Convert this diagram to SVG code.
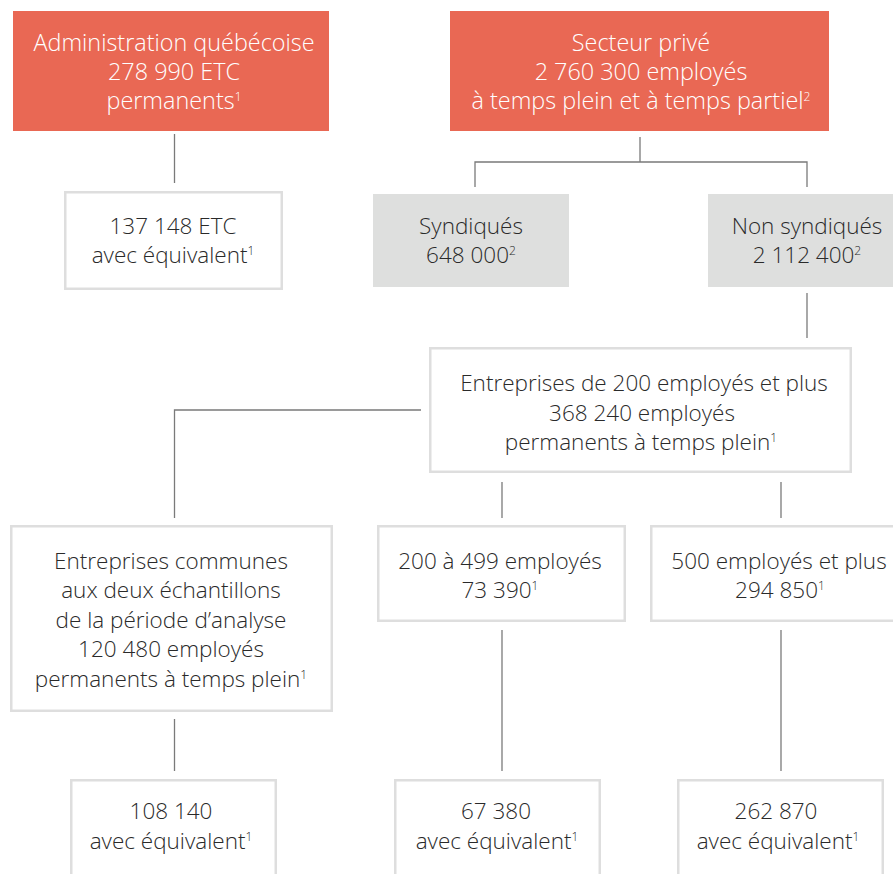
<svg xmlns="http://www.w3.org/2000/svg" width="893" height="874" viewBox="0 0 893 874">
<style>
.red{fill:#E96854}
.grey{fill:#DEDFDE}
.box{fill:#FFFFFF;stroke:#DEDEDE;stroke-width:2.5}
text{font-family:"Open Sans","Noto Sans","Liberation Sans",sans-serif;font-weight:300;font-size:22.5px;text-anchor:middle}
.w{fill:#FFFFFF;font-size:23.4px}
.d{fill:#2A2A2A}
.sup{font-size:12px}
.conn{fill:none;stroke:#7A7A7A;stroke-width:1.3}
</style>
<rect width="893" height="874" fill="#FFFFFF"/>
<g id="connectors">
<path class="conn" d="M174.5 134V183"/>
<path class="conn" d="M640 137V162M475 187V162H807V187"/>
<path class="conn" d="M807 293V338"/>
<path class="conn" d="M421 410H174.5V518"/>
<path class="conn" d="M502 482V518"/>
<path class="conn" d="M781 482V518"/>
<path class="conn" d="M174.5 719V771"/>
<path class="conn" d="M502 630V771"/>
<path class="conn" d="M781 630V771"/>
</g>
<g id="admin">
<rect class="red" x="13" y="11" width="316" height="120"/>
<text class="w" x="174" y="51">Administration québécoise</text>
<text class="w" x="174" y="80">278 990 ETC</text>
<text class="w" x="174" y="109">permanents<tspan class="sup" dy="-8">1</tspan></text>
</g>
<g id="prive">
<rect class="red" x="450" y="11" width="379" height="120"/>
<text class="w" x="641" y="51">Secteur privé</text>
<text class="w" x="641" y="80">2 760 300 employés</text>
<text class="w" x="641" y="109">à temps plein et à temps partiel<tspan class="sup" dy="-8">2</tspan></text>
</g>
<g id="admin-equiv">
<rect class="box" x="65.25" y="192.25" width="216.5" height="96.5"/>
<text class="d" x="173" y="234">137 148 ETC</text>
<text class="d" x="173" y="263">avec équivalent<tspan class="sup" dy="-8">1</tspan></text>
</g>
<g id="syndiques">
<rect class="grey" x="373" y="194" width="196" height="93"/>
<text class="d" x="471" y="234">Syndiqués</text>
<text class="d" x="471" y="263">648 000<tspan class="sup" dy="-8">2</tspan></text>
</g>
<g id="non-syndiques">
<rect class="grey" x="708" y="194" width="190" height="93"/>
<text class="d" x="807" y="234">Non syndiqués</text>
<text class="d" x="807" y="263">2 112 400<tspan class="sup" dy="-8">2</tspan></text>
</g>
<g id="entreprises-200">
<rect class="box" x="430.25" y="348.25" width="420.5" height="123.5"/>
<text class="d" x="644" y="391">Entreprises de 200 employés et plus</text>
<text class="d" x="642" y="421">368 240 employés</text>
<text class="d" x="641" y="450">permanents à temps plein<tspan class="sup" dy="-8">1</tspan></text>
</g>
<g id="communes">
<rect class="box" x="11.25" y="526.25" width="320.5" height="184.5"/>
<text class="d" x="171" y="569">Entreprises communes</text>
<text class="d" x="171" y="598">aux deux échantillons</text>
<text class="d" x="171" y="628">de la période d’analyse</text>
<text class="d" x="171" y="657">120 480 employés</text>
<text class="d" x="171" y="687">permanents à temps plein<tspan class="sup" dy="-8">1</tspan></text>
</g>
<g id="e200-499">
<rect class="box" x="378.25" y="526.25" width="246.5" height="94.5"/>
<text class="d" x="500" y="569">200 à 499 employés</text>
<text class="d" x="500" y="598">73 390<tspan class="sup" dy="-8">1</tspan></text>
</g>
<g id="e500">
<rect class="box" x="651.25" y="526.25" width="260" height="94.5"/>
<text class="d" x="779" y="569">500 employés et plus</text>
<text class="d" x="780" y="598">294 850<tspan class="sup" dy="-8">1</tspan></text>
</g>
<g id="communes-equiv">
<rect class="box" x="71.25" y="780.25" width="204.5" height="110"/>
<text class="d" x="171" y="819">108 140</text>
<text class="d" x="171" y="849">avec équivalent<tspan class="sup" dy="-8">1</tspan></text>
</g>
<g id="e200-499-equiv">
<rect class="box" x="395.25" y="780.25" width="204.5" height="110"/>
<text class="d" x="496" y="819">67 380</text>
<text class="d" x="497" y="849">avec équivalent<tspan class="sup" dy="-8">1</tspan></text>
</g>
<g id="e500-equiv">
<rect class="box" x="678.25" y="780.25" width="204.5" height="110"/>
<text class="d" x="776" y="819">262 870</text>
<text class="d" x="778" y="849">avec équivalent<tspan class="sup" dy="-8">1</tspan></text>
</g>
</svg>
